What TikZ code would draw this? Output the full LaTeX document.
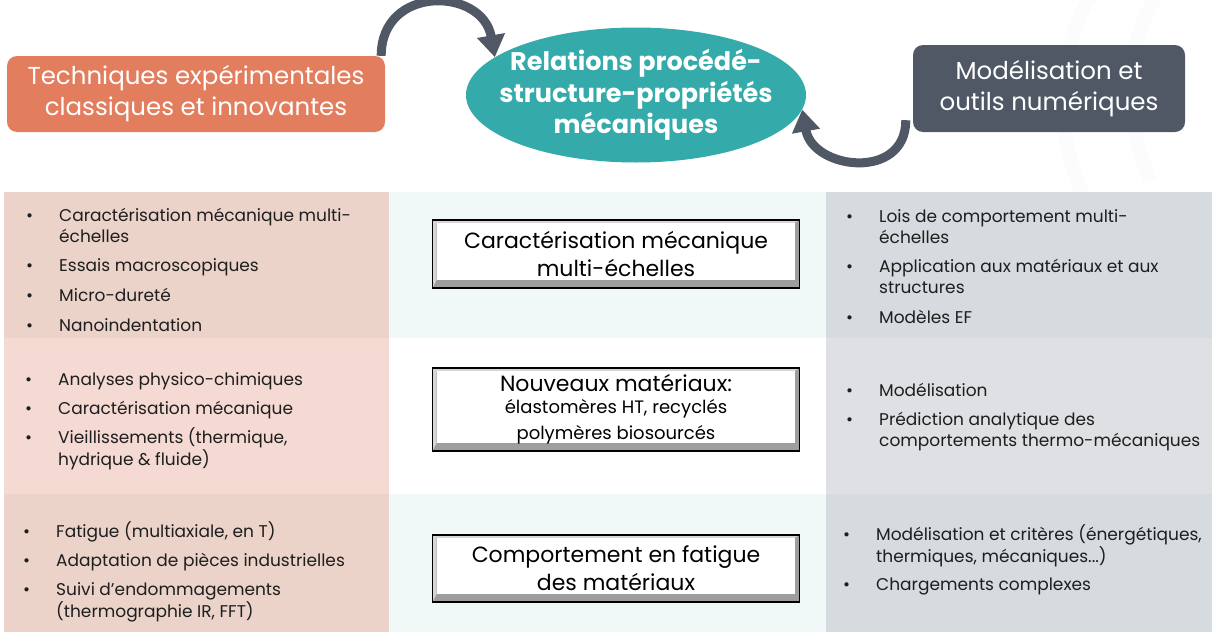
\documentclass[tikz,border=0pt]{standalone}
\usepackage{fontspec}
\setmainfont{Poppins}
\usepackage{tikz}
\usetikzlibrary{shapes.geometric, arrows.meta, positioning, backgrounds}
\definecolor{orangebox}{RGB}{226,125,94}
\definecolor{tealell}{RGB}{52,170,170}
\definecolor{slate}{RGB}{80,88,102}
\definecolor{pinkA}{RGB}{235,211,202}
\definecolor{pinkB}{RGB}{244,218,210}
\definecolor{tealbg}{RGB}{240,248,248}
\definecolor{grayA}{RGB}{213,219,222}
\definecolor{grayB}{RGB}{223,224,228}
\definecolor{bevdark}{RGB}{158,158,158}
\definecolor{bevlight}{RGB}{214,214,214}
\definecolor{inkdark}{RGB}{30,30,30}

\newcommand{\puce}[1]{\makebox[33pt][l]{\textbullet}\begin{tabular}[t]{@{}l@{}}#1\end{tabular}}

\begin{document}
\begin{tikzpicture}[x=1pt, y=-1pt,
  hdrbox/.style={rounded corners=10pt, text=white, align=center, inner sep=0pt, font=\fontsize{24.5}{31}\selectfont},
  bevelbox/.style={draw=black, line width=1.3pt, fill=bevdark, minimum width=367pt, inner sep=0pt, align=center, text=black,
    font=\fontsize{22}{28}\selectfont,
    path picture={
      \fill[bevlight] (path picture bounding box.north west) -- (path picture bounding box.north east)
        -- ([xshift=-5pt,yshift=-3pt]path picture bounding box.north east) -- ([xshift=4pt,yshift=-3pt]path picture bounding box.north west)
        -- ([xshift=4pt,yshift=8pt]path picture bounding box.south west) -- (path picture bounding box.south west) -- cycle;
      \fill[white] ([xshift=4pt,yshift=-3pt]path picture bounding box.north west) rectangle ([xshift=-5pt,yshift=8pt]path picture bounding box.south east);
    }},
  item/.style={anchor=base west, inner sep=0pt, text=inkdark, font=\fontsize{17}{21}\selectfont},
  looparrow/.style={-{Triangle[length=22pt,width=27pt]}, line width=9pt, color=slate},
  faintarc/.style={line width=14pt, color=gray!2}
]
  \useasboundingbox (0,0) rectangle (1216,632);

  % faint background arcs
  \draw[faintarc] (1095,-10) .. controls (1050,60) and (1055,130) .. (1085,200);
  \draw[faintarc] (1160,-10) .. controls (1120,50) and (1125,120) .. (1150,180);

  % Header
  \node[hdrbox, fill=orangebox, minimum width=378pt, minimum height=76pt] (tech) at (196,94) {Techniques expérimentales\\classiques et innovantes};
  \node[hdrbox, fill=slate, minimum width=272pt, minimum height=87pt] (model) at (1049,88.5) {Modélisation et\\outils numériques};
  \node[ellipse, fill=tealell, minimum width=340pt, minimum height=135pt, inner sep=0pt] (rel) at (636,95) {};
  \node[text=white, align=center, inner sep=0pt, font=\bfseries\fontsize{25.5}{31.5}\selectfont] (reltext) at (rel.center) {Relations procédé-\\structure-propriétés\\mécaniques};

  % Arrows
  \begin{scope}[on background layer]
    \draw[looparrow] ([xshift=-4pt]tech.north east) to[out=90, in=100, looseness=1.6] (rel.165);
    \draw[looparrow] ([xshift=-7pt,yshift=12pt]model.south west) to[out=-90, in=-80, looseness=1.5] (rel.-5);
  \end{scope}

  % Table rows
  \fill[pinkA] (4,192) rectangle (389,338);
  \fill[pinkB] (4,338) rectangle (389,494);
  \fill[pinkA] (4,494) rectangle (389,632);
  \fill[tealbg] (389,192) rectangle (826,338);
  \fill[tealbg] (389,494) rectangle (826,632);
  \fill[grayA] (826,192) rectangle (1212,338);
  \fill[grayB] (826,338) rectangle (1212,494);
  \fill[grayA] (826,494) rectangle (1212,632);

  % Left column
  \node[item] (l1a) at (26,221) {\puce{Caractérisation mécanique multi-\\échelles}};
  \node[item] (l1b) at (26,271) {\puce{Essais macroscopiques}};
  \node[item] (l1c) at (26,301) {\puce{Micro-dureté}};
  \node[item] (l1d) at (26,331) {\puce{Nanoindentation}};
  \node[item] (l2a) at (25,385) {\puce{Analyses physico-chimiques}};
  \node[item] (l2b) at (25,414) {\puce{Caractérisation mécanique}};
  \node[item] (l2c) at (25,443) {\puce{Vieillissements (thermique,\\hydrique \& fluide)}};
  \node[item] (l3a) at (23,537) {\puce{Fatigue (multiaxiale, en T)}};
  \node[item] (l3b) at (23,566) {\puce{Adaptation de pièces industrielles}};
  \node[item] (l3c) at (23,595) {\puce{Suivi d’endommagements\\(thermographie IR, FFT)}};

  % Middle column
  \node[bevelbox, minimum height=68pt] (mid1) at (616,254) {Caractérisation mécanique\\multi-échelles};
  \node[bevelbox, minimum height=83pt] (mid2) at (616,409.5) {Nouveaux matériaux:\\[-6pt]{\fontsize{18}{21}\selectfont élastomères HT, recyclés}\\[-2pt]{\fontsize{18}{21}\selectfont polymères biosourcés}};
  \node[bevelbox, minimum height=67pt] (mid3) at (616,568.5) {Comportement en fatigue\\des matériaux};

  % Right column
  \node[item] (r1a) at (846,222) {\puce{Lois de comportement multi-\\échelles}};
  \node[item] (r1b) at (846,272) {\puce{Application aux matériaux et aux\\structures}};
  \node[item] (r1c) at (846,323) {\puce{Modèles EF}};
  \node[item] (r2a) at (846,396) {\puce{Modélisation}};
  \node[item] (r2b) at (846,425) {\puce{Prédiction analytique des\\comportements thermo-mécaniques}};
  \node[item] (r3a) at (843,540) {\puce{Modélisation et critères (énergétiques,\\thermiques, mécaniques...)}};
  \node[item] (r3b) at (843,590) {\puce{Chargements complexes}};
\end{tikzpicture}
\end{document}
